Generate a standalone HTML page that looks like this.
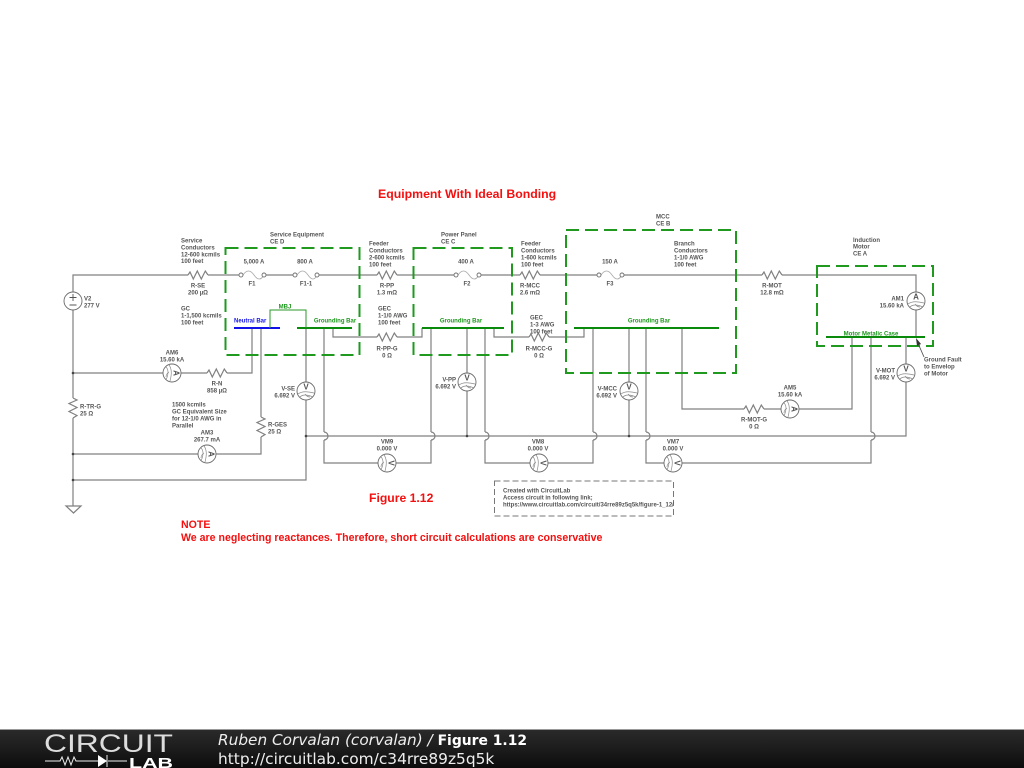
<!DOCTYPE html>
<html><head><meta charset="utf-8"><title>Figure 1.12</title>
<style>
html,body{margin:0;padding:0;background:#fff;width:1024px;height:768px;overflow:hidden}
svg{display:block}
.main{filter:blur(.35px)}
.w{fill:none;stroke:#808080;stroke-width:1.2}
.f{fill:none;stroke:#a8a8a8;stroke-width:.8}
.c{fill:#fff;stroke:#707070;stroke-width:.9}
.m{fill:#fff;stroke:#6a6a6a;stroke-width:.9}
.a{fill:none;stroke:#8a8a8a;stroke-width:.7}
.d{fill:#444}
.box{fill:none;stroke:#1f9a1f;stroke-width:2;stroke-dasharray:13 6}
.bar{stroke:#0a8a0a;stroke-width:2}
text{font-family:"Liberation Sans",sans-serif;font-weight:bold;font-size:6px;fill:#555}
.mid{text-anchor:middle}.end{text-anchor:end}
.g{fill:#1c961c}
.r{fill:#f50f0f}
.ml{font-size:8px;fill:#555;text-anchor:middle}
</style></head><body>
<svg width="1024" height="768" viewBox="0 0 1024 768" xmlns="http://www.w3.org/2000/svg">
<defs>
<linearGradient id="ft" x1="0" y1="0" x2="0" y2="1"><stop offset="0" stop-color="#2a2a2a"/><stop offset=".5" stop-color="#1c1c1c"/><stop offset="1" stop-color="#0c0c0c"/></linearGradient>
</defs>
<rect width="1024" height="768" fill="#fff"/>
<g class="main">
<!-- wires -->
<path class="w" d="M73 292V275H188M208 275H239M266 275H293M319 275H377M397 275H454M481 275H520M540 275H597M624 275H762M782 275H916V292M916 310V337
M73 310V398M73 418V506M73 373H163M181 373H207M227 373H252V328M73 454H198M216 454H261V437M261 417V328M73 480H306V400M306 382V328M324 328V432M324 440V463H378M396 463H431V440M431 432V328
M333 328V337H377M397 337H422V328M494 328V337H529M549 337H584V328
M467 328V373M467 391V436M485 328V432M485 440V463H530M548 463H593V440M593 432V328M629 328V382M629 400V436M646 328V432M646 440V463H664M682 463H871V440M871 432V337M852 337V409H799M781 409H764M744 409H682V328M906 337V364M906 382V436H306"/>
<path class="w" d="M324 432a4 4 0 0 1 0 8M431 432a4 4 0 0 1 0 8M485 432a4 4 0 0 1 0 8M593 432a4 4 0 0 1 0 8M646 432a4 4 0 0 1 0 8M871 432a4 4 0 0 1 0 8"/>
<path class="w" d="M66 506H81L73.500 513Z"/>

<!-- resistors -->
<path class="w" d="M188 275l2-3 3.300 7 4-8 4 8 4-8 2.700 4M377 275l2-3 3.300 7 4-8 4 8 4-8 2.700 4M520 275l2-3 3.300 7 4-8 4 8 4-8 2.700 4M762 275l2-3 3.300 7 4-8 4 8 4-8 2.700 4M207 373l2-3 3.300 7 4-8 4 8 4-8 2.700 4M377 337l2-3 3.300 7 4-8 4 8 4-8 2.700 4M529 337l2-3 3.300 7 4-8 4 8 4-8 2.700 4M744 409l2-3 3.300 7 4-8 4 8 4-8 2.700 4"/>
<path class="w" d="M73 398l4 2-8 3.500 8 4-8 4 8 4-4 2.500M261 417l4 2-8 3.500 8 4-8 4 8 4-4 2.500"/>

<!-- fuses -->
<path class="f" d="M243 275q5.500-8 11 0t10 0M297 275q5.500-8 11 0t9 0M458 275q5.500-8 11 0t10 0M601 275q5.500-8 11 0t10 0"/>
<circle class="c" cx="241" cy="275" r="2"/><circle class="c" cx="264" cy="275" r="2"/>
<circle class="c" cx="295" cy="275" r="2"/><circle class="c" cx="317" cy="275" r="2"/>
<circle class="c" cx="456" cy="275" r="2"/><circle class="c" cx="479" cy="275" r="2"/>
<circle class="c" cx="599" cy="275" r="2"/><circle class="c" cx="622" cy="275" r="2"/>

<!-- junction dots -->
<circle class="d" cx="73" cy="373" r="1.300"/><circle class="d" cx="73" cy="454" r="1.300"/><circle class="d" cx="73" cy="480" r="1.300"/>
<circle class="d" cx="306" cy="436" r="1.300"/><circle class="d" cx="467" cy="436" r="1.300"/><circle class="d" cx="629" cy="436" r="1.300"/>

<!-- bars -->
<path stroke="#1212e8" stroke-width="2" d="M234 328H280"/>
<path class="bar" d="M297 328H352M422 328H504M574 328H719M826 337H925"/>
<path fill="none" stroke="#2a9a2a" stroke-width="1" d="M270 328V310H306V328"/>

<!-- dashed boxes -->
<rect class="box" x="225.500" y="248" width="134" height="107"/>
<rect class="box" x="413.500" y="248" width="98.500" height="107"/>
<rect class="box" x="566" y="230" width="170" height="143"/>
<rect class="box" x="817" y="266" width="116" height="80"/>

<!-- V2 -->
<circle class="m" cx="73" cy="301" r="9"/>
<path stroke="#555" stroke-width=".9" d="M69.500 297.500h7M73 294v7M69.500 305h7"/>

<!-- meters upright -->
<g transform="translate(306 391)"><circle class="m" r="9"/><text class="ml" y="-1.500">V</text><path class="a" d="M-8 3Q-3-1 8 2M-6 6Q-2 2 7 6M-1 3Q1 6 4 6"/></g>
<g transform="translate(467 382)"><circle class="m" r="9"/><text class="ml" y="-1.500">V</text><path class="a" d="M-8 3Q-3-1 8 2M-6 6Q-2 2 7 6M-1 3Q1 6 4 6"/></g>
<g transform="translate(629 391)"><circle class="m" r="9"/><text class="ml" y="-1.500">V</text><path class="a" d="M-8 3Q-3-1 8 2M-6 6Q-2 2 7 6M-1 3Q1 6 4 6"/></g>
<g transform="translate(906 373)"><circle class="m" r="9"/><text class="ml" y="-1.500">V</text><path class="a" d="M-8 3Q-3-1 8 2M-6 6Q-2 2 7 6M-1 3Q1 6 4 6"/></g>
<g transform="translate(916 301)"><circle class="m" r="9"/><text class="ml" y="-1.500">A</text><path class="a" d="M-8 3Q-3-1 8 2M-6 6Q-2 2 7 6M-1 3Q1 6 4 6"/></g>
<!-- meters rotated -->
<g transform="translate(172 373) rotate(90)"><circle class="m" r="9"/><text class="ml" y="-1.500">A</text><path class="a" d="M-8 3Q-3-1 8 2M-6 6Q-2 2 7 6M-1 3Q1 6 4 6"/></g>
<g transform="translate(207 454) rotate(90)"><circle class="m" r="9"/><text class="ml" y="-1.500">A</text><path class="a" d="M-8 3Q-3-1 8 2M-6 6Q-2 2 7 6M-1 3Q1 6 4 6"/></g>
<g transform="translate(790 409) rotate(90)"><circle class="m" r="9"/><text class="ml" y="-1.500">A</text><path class="a" d="M-8 3Q-3-1 8 2M-6 6Q-2 2 7 6M-1 3Q1 6 4 6"/></g>
<g transform="translate(387 463) rotate(90)"><circle class="m" r="9"/><text class="ml" y="-1.500">V</text><path class="a" d="M-8 3Q-3-1 8 2M-6 6Q-2 2 7 6M-1 3Q1 6 4 6"/></g>
<g transform="translate(539 463) rotate(90)"><circle class="m" r="9"/><text class="ml" y="-1.500">V</text><path class="a" d="M-8 3Q-3-1 8 2M-6 6Q-2 2 7 6M-1 3Q1 6 4 6"/></g>
<g transform="translate(673 463) rotate(90)"><circle class="m" r="9"/><text class="ml" y="-1.500">V</text><path class="a" d="M-8 3Q-3-1 8 2M-6 6Q-2 2 7 6M-1 3Q1 6 4 6"/></g>

<!-- ground fault arrow -->
<path stroke="#555" stroke-width=".9" d="M917 341L924 357"/>
<path fill="#333" d="M916 338L921 344L917 346Z"/>

<!-- labels -->
<text x="181" y="242.500">Service</text><text x="181" y="249.500">Conductors</text><text x="181" y="256.500">12-600 kcmils</text><text x="181" y="263">100 feet</text>
<text x="270" y="236.500">Service Equipment</text><text x="270" y="243.500">CE D</text>
<text class="mid" x="254" y="263.500">5,000 A</text><text class="mid" x="305" y="263.500">800 A</text>
<text class="mid" x="252" y="285.500">F1</text><text class="mid" x="306" y="285.500">F1-1</text>
<text class="mid" x="198" y="287.500">R-SE</text><text class="mid" x="198" y="294.500">200 µΩ</text>
<text x="84" y="300.500">V2</text><text x="84" y="307.500">277 V</text>
<text x="181" y="310.500">GC</text><text x="181" y="317.500">1-1,500 kcmils</text><text x="181" y="324.500">100 feet</text>
<text class="mid g" x="285" y="308.500">MBJ</text>
<text x="234" y="322.500" style="fill:#1212e8">Neutral Bar</text>
<text class="mid g" x="335" y="322.500">Grounding Bar</text>
<text class="mid" x="172" y="354.500">AM6</text><text class="mid" x="172" y="361.500">15.60 kA</text>
<text class="mid" x="217" y="385.500">R-N</text><text class="mid" x="217" y="392.500">858 µΩ</text>
<text class="end" x="295" y="390.500">V-SE</text><text class="end" x="295" y="397.500">6.692 V</text>
<text x="172" y="406.500">1500 kcmils</text><text x="172" y="413.500">GC Equivalent Size</text><text x="172" y="420.500">for 12-1/0 AWG in</text><text x="172" y="427.500">Parallel</text>
<text class="mid" x="207" y="434.500">AM3</text><text class="mid" x="207" y="441.500">267.7 mA</text>
<text x="268" y="426.500">R-GES</text><text x="268" y="433.500">25 Ω</text>
<text x="80" y="408.500">R-TR-G</text><text x="80" y="415.500">25 Ω</text>

<text x="369" y="245.500">Feeder</text><text x="369" y="252.500">Conductors</text><text x="369" y="259.500">2-600 kcmils</text><text x="369" y="266.500">100 feet</text>
<text class="mid" x="387" y="287.500">R-PP</text><text class="mid" x="387" y="294.500">1.3 mΩ</text>
<text x="378" y="310.500">GEC</text><text x="378" y="317.500">1-1/0 AWG</text><text x="378" y="324.500">100 feet</text>
<text class="mid" x="387" y="350.500">R-PP-G</text><text class="mid" x="387" y="357.500">0 Ω</text>
<text x="441" y="236.500">Power Panel</text><text x="441" y="243.500">CE C</text>
<text class="mid" x="466" y="263.500">400 A</text><text class="mid" x="467" y="285.500">F2</text>
<text class="mid g" x="461" y="322.500">Grounding Bar</text>
<text class="end" x="456" y="381.500">V-PP</text><text class="end" x="456" y="388.500">6.692 V</text>

<text x="521" y="245.500">Feeder</text><text x="521" y="252.500">Conductors</text><text x="521" y="259.500">1-600 kcmils</text><text x="521" y="266.500">100 feet</text>
<text class="mid" x="530" y="287.500">R-MCC</text><text class="mid" x="530" y="294.500">2.6 mΩ</text>
<text x="530" y="319.500">GEC</text><text x="530" y="326.500">1-3 AWG</text><text x="530" y="333.500">100 feet</text>
<text class="mid" x="539" y="350.500">R-MCC-G</text><text class="mid" x="539" y="357.500">0 Ω</text>
<text x="656" y="218.500">MCC</text><text x="656" y="225.500">CE B</text>
<text class="mid" x="610" y="263.500">150 A</text><text class="mid" x="610" y="285.500">F3</text>
<text class="mid g" x="649" y="322.500">Grounding Bar</text>
<text class="end" x="617" y="390.500">V-MCC</text><text class="end" x="617" y="397.500">6.692 V</text>
<text x="674" y="245.500">Branch</text><text x="674" y="252.500">Conductors</text><text x="674" y="259.500">1-1/0 AWG</text><text x="674" y="266.500">100 feet</text>

<text class="mid" x="772" y="287.500">R-MOT</text><text class="mid" x="772" y="294.500">12.8 mΩ</text>
<text x="853" y="242">Induction</text><text x="853" y="248.500">Motor</text><text x="853" y="255.500">CE A</text>
<text class="end" x="904" y="300.500">AM1</text><text class="end" x="904" y="307.500">15.60 kA</text>
<text class="mid g" x="871" y="335.500">Motor Metalic Case</text>
<text x="924" y="361.500">Ground Fault</text><text x="924" y="368.500">to Envelop</text><text x="924" y="375.500">of Motor</text>
<text class="end" x="895" y="372.500">V-MOT</text><text class="end" x="895" y="379.500">6.692 V</text>
<text class="mid" x="790" y="389.500">AM5</text><text class="mid" x="790" y="396.500">15.60 kA</text>
<text class="mid" x="754" y="421.500">R-MOT-G</text><text class="mid" x="754" y="428.500">0 Ω</text>

<text class="mid" x="387" y="443.500">VM9</text><text class="mid" x="387" y="450.500">0.000 V</text>
<text class="mid" x="538" y="443.500">VM8</text><text class="mid" x="538" y="450.500">0.000 V</text>
<text class="mid" x="673" y="443.500">VM7</text><text class="mid" x="673" y="450.500">0.000 V</text>

<rect x="494.500" y="481" width="179" height="35" fill="none" stroke="#777" stroke-width="1" stroke-dasharray="6 3"/>
<text x="503" y="492.500">Created with CircuitLab</text><text x="503" y="499.500">Access circuit in following link;</text><text x="503" y="506.500">https://www.circuitlab.com/circuit/34rre89z5q5k/figure-1_12/</text>

<text class="r" x="378" y="198" style="font-size:12.3px">Equipment With Ideal Bonding</text>
<text class="r" x="369" y="502" style="font-size:12.2px">Figure 1.12</text>
<text class="r" x="181" y="528" style="font-size:10.6px">NOTE</text>
<text class="r" x="181" y="541" style="font-size:10.6px">We are neglecting reactances. Therefore, short circuit calculations are conservative</text>
</g>

<!-- footer -->
<rect x="0" y="729" width="1024" height="1" fill="#999"/>
<rect x="0" y="730" width="1024" height="38" fill="url(#ft)"/>
<text x="44" y="752" textLength="129" lengthAdjust="spacingAndGlyphs" style="font-size:25px;font-weight:normal;fill:#ddd">CIRCUIT</text>
<text x="129" y="768" textLength="44" lengthAdjust="spacingAndGlyphs" style="font-size:15px;font-weight:bold;fill:#fff">LAB</text>
<path fill="none" stroke="#eee" stroke-width="1" d="M45 761H60l2-4 3 8 3-8 3 8 3-8 2 4H98M108 761H127M107 755V767"/>
<path fill="#fff" d="M98 755L107 761L98 767Z"/>
<text x="218" y="745" style="font-family:'DejaVu Sans',sans-serif;font-size:15.3px;font-weight:normal;font-style:italic;fill:#eee">Ruben Corvalan (corvalan) / <tspan style="font-size:13.9px;font-weight:bold;font-style:normal;fill:#fff">Figure 1.12</tspan></text>
<text x="218" y="764" style="font-family:'DejaVu Sans',sans-serif;font-size:15.4px;font-weight:normal;fill:#eee">http://circuitlab.com/c34rre89z5q5k</text>
</svg>
</body></html>
